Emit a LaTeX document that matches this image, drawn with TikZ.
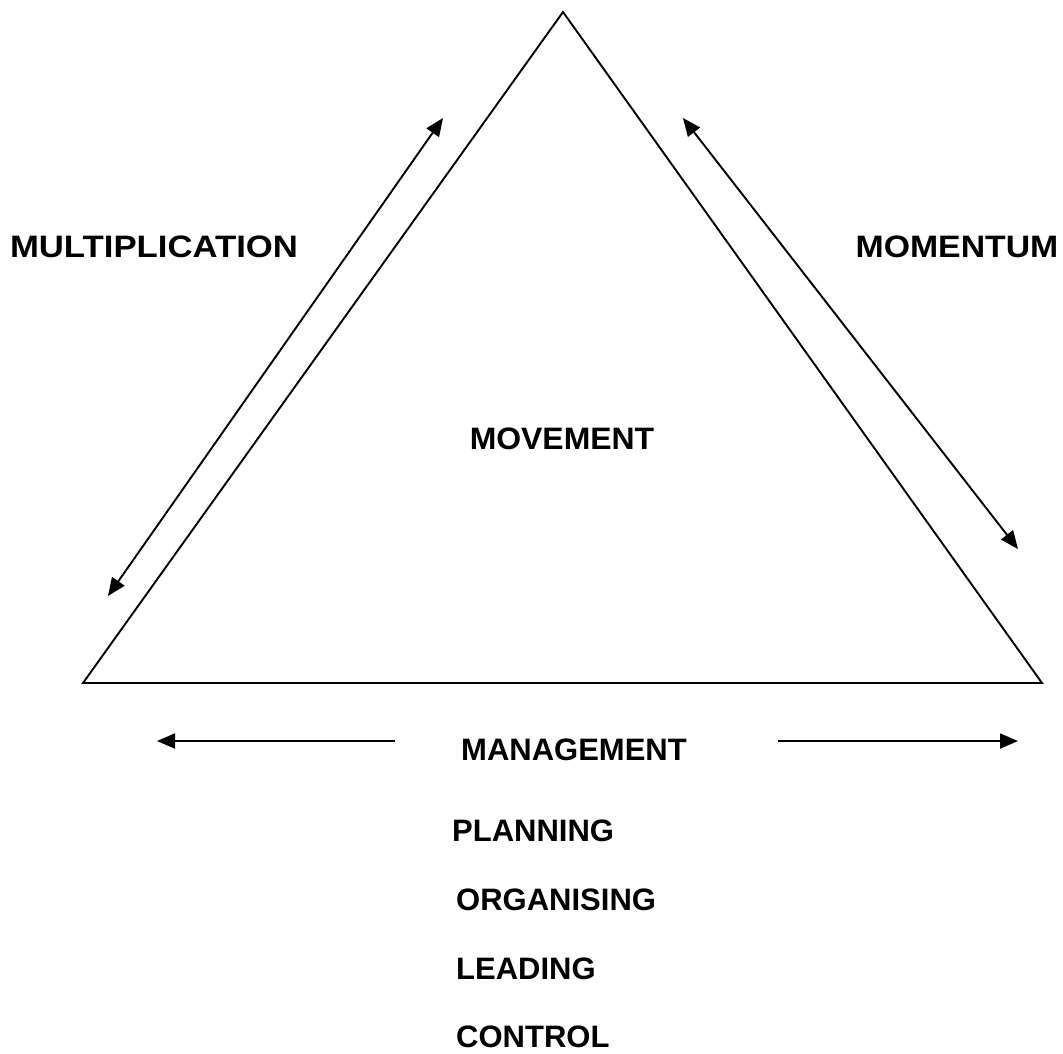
\documentclass[tikz,border=0pt]{standalone}
\usepackage{fontspec}
\setmainfont{Liberation Sans}
\usetikzlibrary{arrows.meta}
\tikzset{
  lbl/.style={inner sep=0pt, font=\fontsize{31}{36}\selectfont\bfseries, anchor=base},
  lblw/.style={lbl, anchor=base west},
  edge/.style={line width=1.9pt, line join=miter},
  tip/.tip={Triangle[length=18pt,width=15pt]},
  arr/.style={line width=1.9pt, tip-tip},
  sarr/.style={line width=1.9pt, -tip}
}
\begin{document}
\begin{tikzpicture}[x=1pt,y=-1pt]
\useasboundingbox (0,0) rectangle (1063,1053);
% triangle
\coordinate (apex) at (563,12);
\coordinate (bl) at (83,683);
\coordinate (br) at (1042,683);
\draw[edge] (apex) -- (bl) -- (br) -- cycle;
% side arrows
\coordinate (la) at (108,596);
\coordinate (lb) at (443,118);
\coordinate (ra) at (683,118);
\coordinate (rb) at (1018,549);
\draw[arr] (la) -- (lb);
\draw[arr] (ra) -- (rb);
% bottom arrows
\coordinate (bls) at (395,741);
\coordinate (ble) at (157,741);
\coordinate (brs) at (778,741);
\coordinate (bre) at (1018,741);
\draw[sarr] (bls) -- (ble);
\draw[sarr] (brs) -- (bre);
% labels
\node[lbl] (mult) at (154,257) {\scalebox{1.12}[1]{MULTIPLICATION}};
\node[lbl] (mom) at (957,257) {\scalebox{1.09}[1]{MOMENTUM}};
\node[lbl] (mov) at (562,449) {\scalebox{1.03}[1]{MOVEMENT}};
\node[lbl] (man) at (574,760) {MANAGEMENT};
\node[lblw] (plan) at (452,841) {PLANNING};
\node[lblw] (org) at (456,910) {ORGANISING};
\node[lblw] (lead) at (456,979) {LEADING};
\node[lblw] (ctrl) at (456,1047) {CONTROL};
\end{tikzpicture}
\end{document}
